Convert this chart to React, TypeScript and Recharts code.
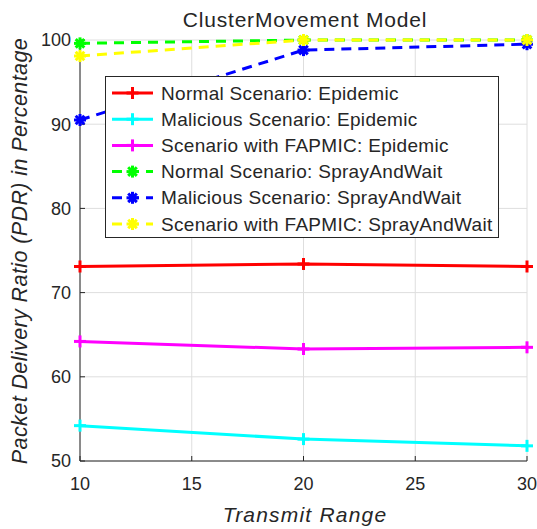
import { CartesianGrid, Label, Line, LineChart, XAxis, YAxis } from 'recharts';

const FONT = '"Liberation Sans", Arial, Helvetica, sans-serif';
const INK = '#262626';

const transmitRange = [10, 20, 30];

const normalEpidemic = [73.1, 73.4, 73.1];
const maliciousEpidemic = [54.2, 52.6, 51.8];
const fapmicEpidemic = [64.2, 63.3, 63.5];
const normalSprayAndWait = [99.6, 100, 100];
const maliciousSprayAndWait = [90.5, 98.8, 99.5];
const fapmicSprayAndWait = [98.1, 100, 100];

const xTicks = [10, 15, 20, 25, 30];
const yTicks = [50, 60, 70, 80, 90, 100];

const seriesNames = [
  'Normal Scenario: Epidemic',
  'Malicious Scenario: Epidemic',
  'Scenario with FAPMIC: Epidemic',
  'Normal Scenario: SprayAndWait',
  'Malicious Scenario: SprayAndWait',
  'Scenario with FAPMIC: SprayAndWait',
];
const seriesColors = ['#ff0000', '#00ffff', '#ff00ff', '#00ff00', '#0000ff', '#ffff00'];
const seriesValues = [
  normalEpidemic,
  maliciousEpidemic,
  fapmicEpidemic,
  normalSprayAndWait,
  maliciousSprayAndWait,
  fapmicSprayAndWait,
];
// first three are solid with '+' markers, last three dashed with '*'
const seriesDashed = [false, false, false, true, true, true];

const series = seriesNames.map((name, i) => ({
  key: `s${i}`,
  name,
  color: seriesColors[i],
  dashed: seriesDashed[i],
}));

const rows = transmitRange.map((range, j) => {
  const row: Record<string, number> = { range };
  seriesValues.forEach((vals, i) => {
    row[`s${i}`] = vals[j];
  });
  return row;
});

function PlusMark({ cx, cy, color }: { cx: number; cy: number; color: string }) {
  return (
    <g>
      <line x1={cx - 6} y1={cy} x2={cx + 6} y2={cy} stroke={color} strokeWidth={3} />
      <line x1={cx} y1={cy - 6} x2={cx} y2={cy + 6} stroke={color} strokeWidth={3} />
    </g>
  );
}

function StarMark({ cx, cy, color }: { cx: number; cy: number; color: string }) {
  const d = 4.3;
  return (
    <g>
      <line x1={cx - 6} y1={cy} x2={cx + 6} y2={cy} stroke={color} strokeWidth={3} />
      <line x1={cx} y1={cy - 6} x2={cx} y2={cy + 6} stroke={color} strokeWidth={3} />
      <line x1={cx - d} y1={cy - d} x2={cx + d} y2={cy + d} stroke={color} strokeWidth={3} />
      <line x1={cx - d} y1={cy + d} x2={cx + d} y2={cy - d} stroke={color} strokeWidth={3} />
      <circle cx={cx} cy={cy} r={3.5} fill={color} />
    </g>
  );
}

function makeDot(color: string, dashed: boolean) {
  return (props: any) => {
    const { cx, cy, index } = props;
    if (cx == null || cy == null) return <g key={`d-${index}`} />;
    return dashed ? (
      <StarMark key={`d-${index}`} cx={cx} cy={cy} color={color} />
    ) : (
      <PlusMark key={`d-${index}`} cx={cx} cy={cy} color={color} />
    );
  };
}

function LegendBox() {
  return (
    <div
      style={{
        position: 'absolute',
        left: 105,
        top: 76,
        width: 394,
        height: 162,
        boxSizing: 'border-box',
        border: `1px solid ${INK}`,
        background: '#fff',
      }}
    >
      <svg width={392} height={160} style={{ display: 'block' }}>
        {series.map((s, i) => {
          const y = 16 + i * 26.2;
          return (
            <g key={s.key}>
              <line
                x1={6}
                y1={y}
                x2={47}
                y2={y}
                stroke={s.color}
                strokeWidth={3}
                strokeDasharray={s.dashed ? '10 7' : undefined}
              />
              {s.dashed ? (
                <StarMark cx={26.5} cy={y} color={s.color} />
              ) : (
                <PlusMark cx={26.5} cy={y} color={s.color} />
              )}
              <text
                x={55}
                y={y + 6.5}
                fill={INK}
                fontSize={19}
                fontFamily={FONT}
                letterSpacing={0.3}
              >
                {s.name}
              </text>
            </g>
          );
        })}
      </svg>
    </div>
  );
}

export default function App() {
  return (
    <div
      style={{
        position: 'absolute',
        left: 0,
        top: 0,
        width: 537,
        height: 529,
        background: '#fff',
        fontFamily: FONT,
        overflow: 'hidden',
      }}
    >
      <div
        style={{
          position: 'absolute',
          left: 0,
          top: 9,
          width: 610,
          textAlign: 'center',
          fontSize: 21,
          lineHeight: '21px',
          letterSpacing: 0.8,
          color: INK,
          whiteSpace: 'nowrap',
        }}
      >
        ClusterMovement Model
      </div>
      <div style={{ position: 'absolute', left: 0, top: 0 }}>
        <LineChart
          width={537}
          height={529}
          data={rows}
          margin={{ top: 40, right: 10, bottom: 38, left: 0 }}
        >
          <CartesianGrid stroke="#dedede" strokeWidth={1} />
          <XAxis
            dataKey="range"
            type="number"
            domain={[10, 30]}
            ticks={xTicks}
            height={30}
            stroke={INK}
            tickSize={-5}
            tickMargin={21}
            tick={{ fill: INK, fontSize: 18, fontFamily: FONT }}
          >
            <Label
              content={(props: any) => {
                const vb = props.viewBox;
                return (
                  <text
                    x={vb.x + vb.width / 2 + 1.5}
                    y={521.5}
                    textAnchor="middle"
                    fill={INK}
                    fontSize={21}
                    fontStyle="italic"
                    fontFamily={FONT}
                    letterSpacing={1.2}
                  >
                    Transmit Range
                  </text>
                );
              }}
            />
          </XAxis>
          <XAxis
            xAxisId="top"
            orientation="top"
            dataKey="range"
            type="number"
            domain={[10, 30]}
            ticks={xTicks}
            height={0}
            stroke={INK}
            tickSize={-5}
            tick={false}
          />
          <YAxis
            type="number"
            domain={[50, 100]}
            ticks={yTicks}
            width={80}
            stroke={INK}
            tickSize={-5}
            tickMargin={14}
            tick={{ fill: INK, fontSize: 18, fontFamily: FONT }}
          >
            <Label
              content={() => (
                <text
                  x={27}
                  y={251}
                  transform="rotate(-90, 27, 251)"
                  textAnchor="middle"
                  fill={INK}
                  fontSize={21.5}
                  fontStyle="italic"
                  fontFamily={FONT}
                  letterSpacing={0.4}
                >
                  Packet Delivery Ratio (PDR) in Percentage
                </text>
              )}
            />
          </YAxis>
          <YAxis
            yAxisId="right"
            orientation="right"
            type="number"
            domain={[50, 100]}
            ticks={yTicks}
            width={0}
            stroke={INK}
            tickSize={-5}
            tick={false}
          />
          {series.map((s) => (
            <Line
              key={s.key}
              type="linear"
              dataKey={s.key}
              name={s.name}
              stroke={s.color}
              strokeWidth={3}
              strokeDasharray={s.dashed ? '10 7' : undefined}
              dot={makeDot(s.color, s.dashed)}
              activeDot={false}
              isAnimationActive={false}
            />
          ))}
        </LineChart>
      </div>
      <LegendBox />
    </div>
  );
}
